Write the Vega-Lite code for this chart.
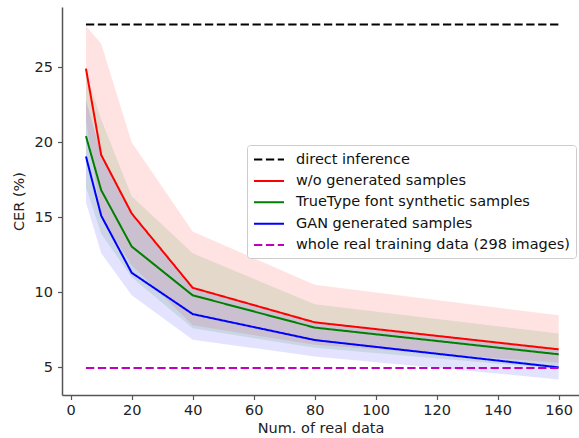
{
  "$schema": "https://vega.github.io/schema/vega-lite/v6.json",
  "width": 517,
  "height": 388,
  "autosize": "none",
  "padding": {"left": 62, "top": 7, "right": 0, "bottom": 43},
  "background": "white",
  "config": {
    "view": {"stroke": null},
    "font": "DejaVu Sans",
    "axis": {
      "grid": false,
      "domainColor": "#555555",
      "domainWidth": 1.5,
      "tickColor": "#555555",
      "tickWidth": 1.2,
      "tickSize": 4.5,
      "labelFont": "DejaVu Sans",
      "labelFontSize": 14.5,
      "labelColor": "#222222",
      "titleFont": "DejaVu Sans",
      "titleFontSize": 14.5,
      "titleFontWeight": "normal",
      "titleColor": "#222222"
    }
  },
  "datasets": {
    "lines": [
      {"series": "direct inference", "x": 5, "y": 27.83},
      {"series": "direct inference", "x": 160, "y": 27.83},
      {"series": "w/o generated samples", "x": 5, "y": 24.9},
      {"series": "w/o generated samples", "x": 10, "y": 19.15},
      {"series": "w/o generated samples", "x": 20, "y": 15.25},
      {"series": "w/o generated samples", "x": 40, "y": 10.3},
      {"series": "w/o generated samples", "x": 80, "y": 8.0},
      {"series": "w/o generated samples", "x": 160, "y": 6.2},
      {"series": "TrueType font synthetic samples", "x": 5, "y": 20.4},
      {"series": "TrueType font synthetic samples", "x": 10, "y": 16.8},
      {"series": "TrueType font synthetic samples", "x": 20, "y": 13.05},
      {"series": "TrueType font synthetic samples", "x": 40, "y": 9.8},
      {"series": "TrueType font synthetic samples", "x": 80, "y": 7.65},
      {"series": "TrueType font synthetic samples", "x": 160, "y": 5.87},
      {"series": "GAN generated samples", "x": 5, "y": 19.05},
      {"series": "GAN generated samples", "x": 10, "y": 15.1},
      {"series": "GAN generated samples", "x": 20, "y": 11.3},
      {"series": "GAN generated samples", "x": 40, "y": 8.55},
      {"series": "GAN generated samples", "x": 80, "y": 6.82},
      {"series": "GAN generated samples", "x": 160, "y": 5.0},
      {"series": "whole real training data (298 images)", "x": 5, "y": 4.95},
      {"series": "whole real training data (298 images)", "x": 160, "y": 4.95}
    ],
    "bands": [
      {"series": "w/o generated samples", "x": 5, "lo": 21.5, "hi": 27.75},
      {"series": "w/o generated samples", "x": 10, "lo": 15.0, "hi": 26.55},
      {"series": "w/o generated samples", "x": 20, "lo": 11.8, "hi": 20.0},
      {"series": "w/o generated samples", "x": 40, "lo": 7.8, "hi": 14.05},
      {"series": "w/o generated samples", "x": 80, "lo": 6.5, "hi": 10.5},
      {"series": "w/o generated samples", "x": 160, "lo": 5.3, "hi": 8.47},
      {"series": "TrueType font synthetic samples", "x": 5, "lo": 17.0, "hi": 24.6},
      {"series": "TrueType font synthetic samples", "x": 10, "lo": 13.9, "hi": 21.5},
      {"series": "TrueType font synthetic samples", "x": 20, "lo": 11.0, "hi": 16.4},
      {"series": "TrueType font synthetic samples", "x": 40, "lo": 7.6, "hi": 12.6},
      {"series": "TrueType font synthetic samples", "x": 80, "lo": 6.3, "hi": 9.2},
      {"series": "TrueType font synthetic samples", "x": 160, "lo": 4.9, "hi": 7.25},
      {"series": "GAN generated samples", "x": 5, "lo": 16.0, "hi": 22.8},
      {"series": "GAN generated samples", "x": 10, "lo": 12.6, "hi": 19.2},
      {"series": "GAN generated samples", "x": 20, "lo": 9.8, "hi": 15.2},
      {"series": "GAN generated samples", "x": 40, "lo": 6.84, "hi": 10.3},
      {"series": "GAN generated samples", "x": 80, "lo": 5.73, "hi": 8.0},
      {"series": "GAN generated samples", "x": 160, "lo": 4.2, "hi": 6.2}
    ]
  },
  "layer": [
    {
      "data": {"name": "bands"},
      "mark": {"type": "area", "opacity": 0.11, "clip": true},
      "encoding": {
        "x": {"field": "x", "type": "quantitative"},
        "y": {"field": "lo", "type": "quantitative"},
        "y2": {"field": "hi"},
        "detail": {"field": "series"},
        "fill": {
          "field": "series",
          "type": "nominal",
          "scale": {
            "domain": ["w/o generated samples", "TrueType font synthetic samples", "GAN generated samples"],
            "range": ["#ff0000", "#008000", "#0000ff"]
          },
          "legend": null
        }
      }
    },
    {
      "data": {"name": "lines"},
      "mark": {"type": "line", "strokeWidth": 2, "clip": true},
      "encoding": {
        "x": {
          "field": "x",
          "type": "quantitative",
          "scale": {"domain": [-2.85, 166.66], "nice": false, "zero": false},
          "axis": {"values": [0, 20, 40, 60, 80, 100, 120, 140, 160], "title": "Num. of real data", "labelPadding": 4, "titlePadding": 4}
        },
        "y": {
          "field": "y",
          "type": "quantitative",
          "scale": {"domain": [3.16, 29.0], "nice": false, "zero": false},
          "axis": {"values": [5, 10, 15, 20, 25], "title": "CER (%)", "labelPadding": 5, "titlePadding": 8}
        },
        "color": {
          "field": "series",
          "type": "nominal",
          "title": null,
          "scale": {
            "domain": ["direct inference", "w/o generated samples", "TrueType font synthetic samples", "GAN generated samples", "whole real training data (298 images)"],
            "range": ["#000000", "#ff0000", "#008000", "#0000ff", "#bf00bf"]
          },
          "legend": {
            "orient": "none",
            "legendX": 185,
            "legendY": 138,
            "title": null,
            "symbolType": "M-1,0H3",
            "symbolSize": 225,
            "symbolStrokeWidth": 2,
            "labelFont": "DejaVu Sans",
            "labelFontSize": 14.5,
            "labelColor": "#111111",
            "labelOffset": 26,
            "labelLimit": 400,
            "rowPadding": 6.4,
            "padding": 6,
            "strokeColor": "#cccccc",
            "fillColor": "rgba(255,255,255,0.8)",
            "cornerRadius": 3
          }
        },
        "strokeDash": {
          "field": "series",
          "type": "nominal",
          "title": null,
          "scale": {
            "domain": ["direct inference", "w/o generated samples", "TrueType font synthetic samples", "GAN generated samples", "whole real training data (298 images)"],
            "range": [[8.3, 3.6], [1, 0], [1, 0], [1, 0], [8.3, 3.6]]
          }
        }
      }
    },
    {
      "mark": {"type": "rule", "color": "#555555", "strokeWidth": 1.5},
      "encoding": {"y": {"datum": 29.0}}
    }
  ]
}
